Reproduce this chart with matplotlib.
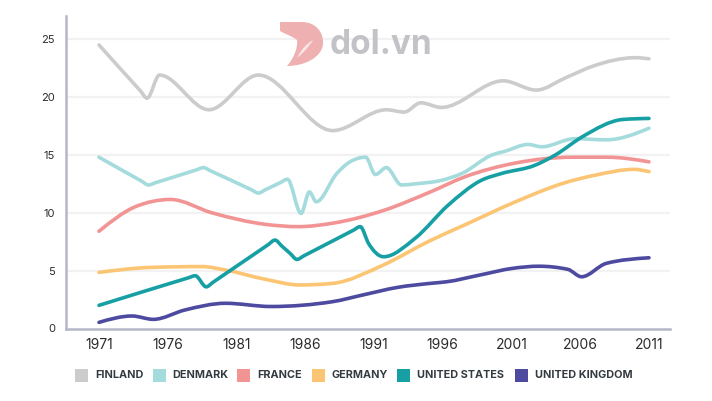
import numpy as np
import matplotlib
matplotlib.use('Agg')
import matplotlib.pyplot as plt
from matplotlib.path import Path
from matplotlib.patches import PathPatch, Rectangle

plt.rcParams['font.family'] = ['Inter', 'DejaVu Sans']

# values (year, value)
finland_years = [1971, 1974.0, 1974.5, 1975.4, 1979.0, 1982.6, 1988.0, 1991.9, 1993.2, 1994.4,
                 1995.9, 2000.4, 2002.8, 2005.0, 2007.0, 2010.0, 2011]
finland_vals = [24.5, 20.55, 19.9, 21.9, 18.9, 21.9, 17.1, 18.9, 18.7, 19.5,
                19.1, 21.4, 20.6, 21.7, 22.7, 23.4, 23.3]

denmark_years = [1971, 1974.1, 1974.6, 1975.1, 1978.1, 1978.6, 1979.1, 1982.1, 1982.6, 1983.1,
                 1984.2, 1984.7, 1985.7, 1986.3, 1986.8, 1988.3, 1989.25, 1990.4, 1991.1,
                 1991.9, 1993.0, 1994.0, 1995.9, 1997.4, 1999.6, 2000.5, 2002.2, 2003.2,
                 2005.6, 2007.9, 2011]
denmark_vals = [14.8, 12.73, 12.4, 12.59, 13.71, 13.9, 13.63, 11.98, 11.7, 11.99,
                12.61, 12.9, 9.95, 11.8, 10.95, 13.4, 14.4, 14.8, 13.3,
                13.9, 12.4, 12.5, 12.8, 13.4, 15.0, 15.3, 15.9, 15.7,
                16.4, 16.3, 17.3]

france_years = [1971, 1973.6, 1976.2, 1979.2, 1983.1, 1985.5, 1988.0, 1991.7, 1995.1, 1997.6,
                2001.3, 2005.5, 2008.0, 2011]
france_vals = [8.4, 10.5, 11.15, 10.0, 9.0, 8.8, 9.1, 10.2, 11.8, 13.1,
               14.3, 14.8, 14.8, 14.4]

germany_years = [1971, 1974.8, 1978.5, 1980.2, 1983.1, 1985.6, 1988.0, 1991.7, 1995.1, 1997.6,
                 2001.3, 2004.9, 2007.1, 2009.9, 2011]
germany_vals = [4.85, 5.28, 5.35, 5.05, 4.25, 3.76, 3.9, 5.5, 7.6, 8.95,
                10.95, 12.6, 13.25, 13.75, 13.55]

us_years = [1971, 1977.5, 1978.0, 1978.8, 1979.3, 1983.3, 1983.8, 1984.3, 1984.9, 1985.4,
            1985.9, 1989.5, 1990.0, 1990.6, 1991.7, 1994.0, 1996.4, 1998.8, 2000.3, 2002.7,
            2004.2, 2006.2, 2009.1, 2011]
us_vals = [2.0, 4.38, 4.56, 3.6, 4.0, 7.24, 7.64, 7.12, 6.49, 5.97,
           6.28, 8.49, 8.8, 7.36, 6.2, 7.8, 10.66, 12.8, 13.4, 14.1,
           15.0, 16.6, 18.06, 18.15]

uk_years = [1971, 1973.4, 1974.95, 1977.25, 1980.2, 1983.5, 1988.0, 1990.2, 1992.7, 1995.1,
            1996.3, 1998.7, 2001.1, 2003.0, 2005.1, 2006.1, 2007.9, 2011]
uk_vals = [0.53, 1.08, 0.79, 1.6, 2.18, 1.9, 2.32, 2.9, 3.55, 3.9,
           4.04, 4.62, 5.2, 5.38, 5.11, 4.47, 5.63, 6.11]

labels = ['FINLAND', 'DENMARK', 'FRANCE', 'GERMANY', 'UNITED STATES', 'UNITED KINGDOM']
colors = ['#cccccc', '#a4dbdc', '#f39494', '#fbc574', '#17a0a4', '#4d4a9f']
xticks = [1971, 1976, 1981, 1986, 1991, 1996, 2001, 2006, 2011]
yticks = [0, 5, 10, 15, 20, 25]


def monotone_path(xs, ys):
    # monotone cubic (like d3.curveMonotoneX) as bezier segments
    x = np.asarray(xs, float)
    y = np.asarray(ys, float)
    n = len(x)
    h = np.diff(x)
    s = np.diff(y) / h
    t = np.zeros(n)
    for i in range(1, n - 1):
        p = (s[i - 1] * h[i] + s[i] * h[i - 1]) / (h[i - 1] + h[i])
        t[i] = (np.sign(s[i - 1]) + np.sign(s[i])) * min(abs(s[i - 1]), abs(s[i]), 0.5 * abs(p))
    t[0] = (3 * s[0] - t[1]) / 2
    t[-1] = (3 * s[-1] - t[-2]) / 2
    verts = [(x[0], y[0])]
    codes = [Path.MOVETO]
    for i in range(n - 1):
        dx = h[i] / 3
        verts += [(x[i] + dx, y[i] + dx * t[i]), (x[i + 1] - dx, y[i + 1] - dx * t[i + 1]),
                  (x[i + 1], y[i + 1])]
        codes += [Path.CURVE4] * 3
    return Path(verts, codes)


def px(x, y):
    # pixel position (from top-left) to figure fraction
    return (x / 712, 1 - y / 401)


fig = plt.figure(figsize=(7.12, 4.01), dpi=100)
ax = fig.add_axes([66 / 712, 1 - 328.5 / 401, 604 / 712, 312.5 / 401])

series = [(finland_years, finland_vals), (denmark_years, denmark_vals),
          (france_years, france_vals), (germany_years, germany_vals),
          (us_years, us_vals), (uk_years, uk_vals)]
for (xs, ys), c in zip(series, colors):
    ax.add_patch(PathPatch(monotone_path(xs, ys), fill=False, edgecolor=c, lw=2.6,
                           capstyle='round', joinstyle='round', zorder=3))

ax.set_xlim(1968.6, 2012.53)
ax.set_ylim(0, 27)
ax.set_xticks(xticks)
ax.set_yticks(yticks)
ax.tick_params(length=0)
ax.tick_params(axis='x', labelsize=10, pad=7, colors='#2b2b2b')
ax.tick_params(axis='y', labelsize=8, pad=8, colors='#2b2b2b')
for y in yticks[1:]:
    ax.axhline(y, color='#f2f2f2', lw=1.6, zorder=1)
for side in ['top', 'right']:
    ax.spines[side].set_visible(False)
for side in ['left', 'bottom']:
    ax.spines[side].set_color('#b4b8c6')
    ax.spines[side].set_linewidth(1.8)

# watermark logo
logo = [(280, 22), (302, 22), (316, 22), (324, 33), (323, 44), (322, 57), (305, 66), (287, 66),
        (294, 58), (298, 48), (297, 40), (292, 36), (285, 34), (280, 31), (280, 22)]
logo_codes = [Path.MOVETO, Path.LINETO] + [Path.CURVE4] * 12 + [Path.CLOSEPOLY]
fig.patches.append(PathPatch(Path([px(*p) for p in logo], logo_codes), transform=fig.transFigure,
                             facecolor='#eeb0b0', edgecolor='none', zorder=5))
leaf = [(297, 58), (301, 50), (306, 44), (313, 40), (309, 47), (303, 53), (297, 58)]
leaf_codes = [Path.MOVETO] + [Path.CURVE4] * 6
fig.patches.append(PathPatch(Path([px(*p) for p in leaf], leaf_codes), transform=fig.transFigure,
                             facecolor='#fbe6e6', edgecolor='none', zorder=6))
fig.text(*px(330, 54), 'dol.vn', fontsize=24, fontweight='bold', color='#c3c3c7',
         ha='left', va='baseline', zorder=5)

# legend
sq_x = [75, 153, 237, 311.5, 397, 515]
txt_x = [95, 172.5, 257, 331.5, 417, 535]
for lab, c, sx, tx in zip(labels, colors, sq_x, txt_x):
    x0, y0 = px(sx, 382)
    fig.patches.append(Rectangle((x0, y0), 13 / 712, 13 / 401, transform=fig.transFigure,
                                 facecolor=c, edgecolor='none'))
    fig.text(*px(tx, 375.5), lab, fontsize=7.8, fontweight='bold', color='#333a40',
             ha='left', va='center')

fig.savefig('out.png', dpi=100)
